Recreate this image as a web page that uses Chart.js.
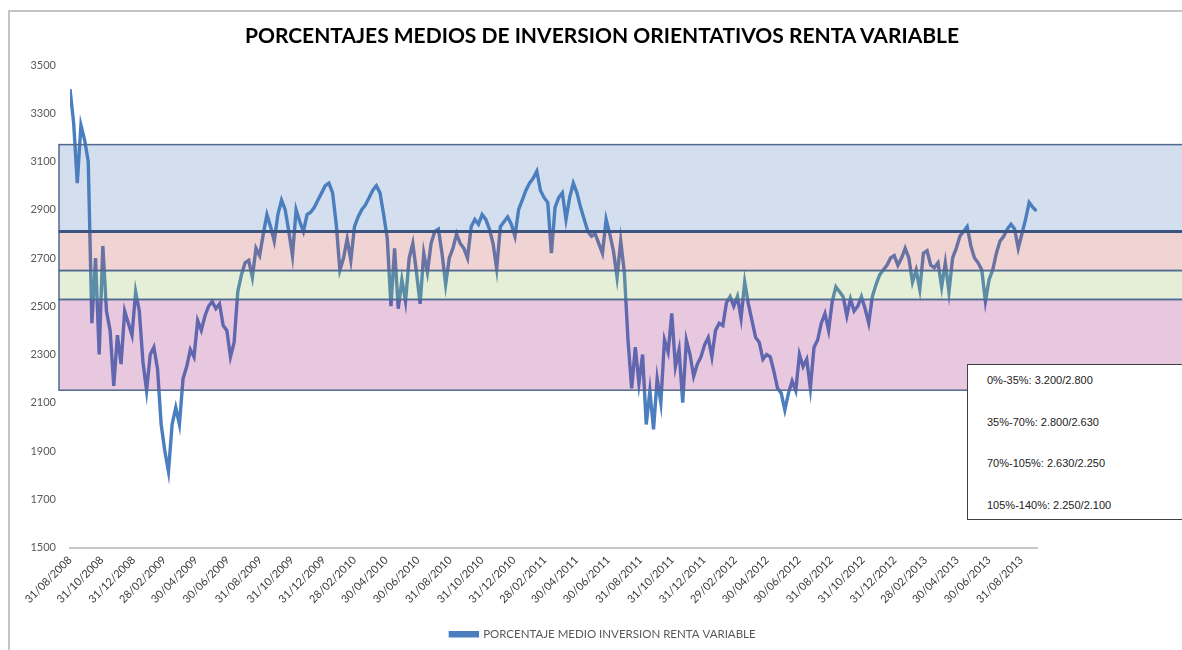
<!DOCTYPE html>
<html>
<head>
<meta charset="utf-8">
<script src="https://cdn.jsdelivr.net/npm/chart.js@4/dist/chart.umd.min.js"></script>
<style>
  html, body { margin: 0; padding: 0; background: #fff; }
  #wrap { position: relative; width: 1182px; height: 650px; overflow: hidden; }
  #frame { position: absolute; left: 8px; top: 10px; width: 1200px; height: 700px;
           border-left: 2px solid #c4c4c4; border-top: 2px solid #c4c4c4; }
  #title { position: absolute; left: 0; width: 1204px; top: 22px; text-align: center;
           font-family: Lato, "Open Sans", sans-serif; font-weight: bold; font-size: 21px; color: #000; }
  #info { position: absolute; left: 967px; top: 364px; width: 240px; height: 154px; background: #fff;
          border: 1.5px solid #404040; font-family: "Liberation Sans", Arial, sans-serif; font-size: 11px; color: #222; }
  #info div { position: absolute; left: 19px; }
  canvas { position: absolute; left: 0; top: 0; }
</style>
</head>
<body>
<div id="wrap">
  <div id="frame"></div>
  <canvas id="c" width="1182" height="650"></canvas>
  <div id="title">PORCENTAJES MEDIOS DE INVERSION ORIENTATIVOS RENTA VARIABLE</div>
  <div id="info"></div>
</div>
<script>
// ---------- data ----------
const startDate = '31/08/2008';           // first weekly observation
const seriesName = 'PORCENTAJE MEDIO INVERSION RENTA VARIABLE';
// weekly values
const values = [
  3400,3260,3010,3250,3190,3100,2430,2700,2300,2750,
  2480,2400,2170,2380,2260,2480,2430,2380,2560,2480,
  2270,2150,2300,2330,2240,2010,1900,1815,2010,2080,
  2010,2200,2250,2320,2290,2440,2400,2460,2500,2520,
  2490,2510,2420,2400,2290,2350,2560,2630,2680,2690,
  2620,2740,2710,2800,2880,2830,2770,2880,2940,2900,
  2810,2710,2900,2850,2810,2880,2890,2910,2940,2970,
  3000,3010,2970,2840,2650,2700,2780,2690,2830,2870,
  2900,2920,2950,2980,3000,2970,2880,2780,2500,2740,
  2490,2610,2520,2700,2760,2640,2510,2720,2640,2760,
  2810,2820,2720,2590,2700,2740,2800,2760,2740,2700,
  2830,2860,2840,2880,2860,2820,2760,2655,2830,2850,
  2870,2840,2790,2900,2940,2980,3010,3030,3060,2980,
  2950,2930,2720,2910,2950,2970,2860,2950,3010,2970,
  2910,2860,2810,2790,2800,2760,2720,2860,2800,2730,
  2620,2770,2640,2360,2160,2330,2180,2300,2010,2150,
  1990,2200,2100,2360,2310,2470,2250,2320,2100,2360,
  2300,2210,2260,2290,2340,2370,2290,2400,2430,2420,
  2515,2540,2500,2540,2450,2600,2510,2440,2370,2350,
  2280,2300,2290,2230,2160,2140,2070,2140,2190,2150,
  2300,2250,2280,2160,2330,2360,2430,2470,2400,2520,
  2580,2560,2540,2460,2530,2480,2500,2540,2490,2430,
  2540,2590,2630,2650,2670,2700,2710,2670,2700,2740,
  2700,2600,2650,2570,2720,2730,2670,2660,2680,2580,
  2680,2560,2700,2740,2790,2810,2830,2750,2700,2680,
  2650,2520,2610,2650,2720,2770,2790,2820,2840,2820,
  2740,2800,2860,2930,2910,2895
];
const xTickLabels = [
  '31/08/2008','31/10/2008','31/12/2008','28/02/2009','30/04/2009','30/06/2009',
  '31/08/2009','31/10/2009','31/12/2009','28/02/2010','30/04/2010','30/06/2010',
  '31/08/2010','31/10/2010','31/12/2010','28/02/2011','30/04/2011','30/06/2011',
  '31/08/2011','31/10/2011','31/12/2011','29/02/2012','30/04/2012','30/06/2012',
  '31/08/2012','31/10/2012','31/12/2012','28/02/2013','30/04/2013','30/06/2013',
  '31/08/2013'
];
const endDate = '30/09/2013';
const yTicks = [1500,1700,1900,2100,2300,2500,2700,2900,3100,3300,3500];
// orientative bands (value limits as drawn)
const bandTops    = [3170, 2810, 2648, 2528];
const bandBottoms = [2810, 2648, 2528, 2152];
const bandColors  = ['rgba(79,127,187,0.25)','rgba(195,79,79,0.25)','rgba(151,187,91,0.25)','rgba(163,35,123,0.25)'];
const bandLegend  = ['0%-35%: 3.200/2.800','35%-70%: 2.800/2.630','70%-105%: 2.630/2.250','105%-140%: 2.250/2.100'];

// ---------- helpers ----------
function dayOf(s) {
  const [d, m, y] = s.split('/').map(Number);
  const [d0, m0, y0] = startDate.split('/').map(Number);
  return (Date.UTC(y, m - 1, d) - Date.UTC(y0, m0 - 1, d0)) / 86400000;
}
const points = values.map((v, i) => ({ x: i * 7, y: v }));

// info box
const info = document.getElementById('info');
bandLegend.forEach((t, i) => {
  const el = document.createElement('div');
  el.textContent = t;
  el.style.top = (9 + i * 41.5) + 'px';
  info.appendChild(el);
});

const bandsPlugin = {
  id: 'bands',
  afterDatasetsDraw(chart) {
    const { ctx, chartArea, scales } = chart;
    const y = scales.y;
    const left = chartArea.left - 11;
    const right = chart.width + 5;
    ctx.save();
    bandTops.forEach((t, i) => {
      const yt = y.getPixelForValue(t), yb = y.getPixelForValue(bandBottoms[i]);
      ctx.fillStyle = bandColors[i];
      ctx.fillRect(left, yt, right - left, yb - yt);
    });
    ctx.strokeStyle = '#4f6a93';
    ctx.lineWidth = 1.5;
    bandTops.forEach((t, i) => {
      const yt = y.getPixelForValue(t), yb = y.getPixelForValue(bandBottoms[i]);
      ctx.strokeRect(left, yt, right - left, yb - yt);
    });
    // emphasised 2810 limit
    const y2 = y.getPixelForValue(bandTops[1]);
    ctx.strokeStyle = '#3c5580';
    ctx.lineWidth = 3;
    ctx.beginPath(); ctx.moveTo(left, y2); ctx.lineTo(right, y2); ctx.stroke();
    ctx.restore();
  }
};

new Chart(document.getElementById('c'), {
  type: 'line',
  data: {
    datasets: [{
      label: seriesName,
      data: points,
      borderColor: '#4a7ebf',
      backgroundColor: '#4a7ebf',
      borderWidth: 3.4,
      pointRadius: 0,
      tension: 0,
      fill: false
    }]
  },
  options: {
    responsive: false,
    animation: false,
    layout: { padding: { left: 24, right: 0, top: 65, bottom: 0 } },
    plugins: {
      title: { display: false },
      tooltip: { enabled: false },
      legend: {
        position: 'bottom',
        labels: {
          boxWidth: 27, boxHeight: 3, padding: 10,
          color: '#595959',
          font: { family: 'Lato', size: 11.5 }
        }
      }
    },
    scales: {
      x: {
        type: 'linear',
        min: 0,
        max: dayOf(endDate),
        grid: { display: false, drawTicks: false },
        border: { display: true, color: '#c8c8c8', width: 2 },
        afterBuildTicks: (s) => { s.ticks = xTickLabels.map(l => ({ value: dayOf(l) })); },
        afterFit: (s) => { s.height = 71; },
        ticks: {
          autoSkip: false, minRotation: 45, maxRotation: 45, padding: 6,
          color: '#3a3a3a', font: { family: 'Lato', size: 11 },
          callback: (v, i) => xTickLabels[i]
        }
      },
      y: {
        min: yTicks[0], max: yTicks[yTicks.length - 1],
        grid: { display: false, drawTicks: false },
        border: { display: false },
        afterBuildTicks: (s) => { s.ticks = yTicks.map(v => ({ value: v })); },
        afterFit: (s) => { s.width = 46; },
        ticks: {
          padding: 14, color: '#595959', font: { family: 'Lato', size: 11 },
          callback: (v) => String(v)
        }
      },
      yRight: {
        position: 'right',
        display: true,
        min: 0, max: 1,
        grid: { display: false, drawTicks: false },
        border: { display: false },
        ticks: { display: false },
        afterFit: (s) => { s.width = 145; }
      }
    }
  },
  plugins: [bandsPlugin]
});
</script>
</body>
</html>
